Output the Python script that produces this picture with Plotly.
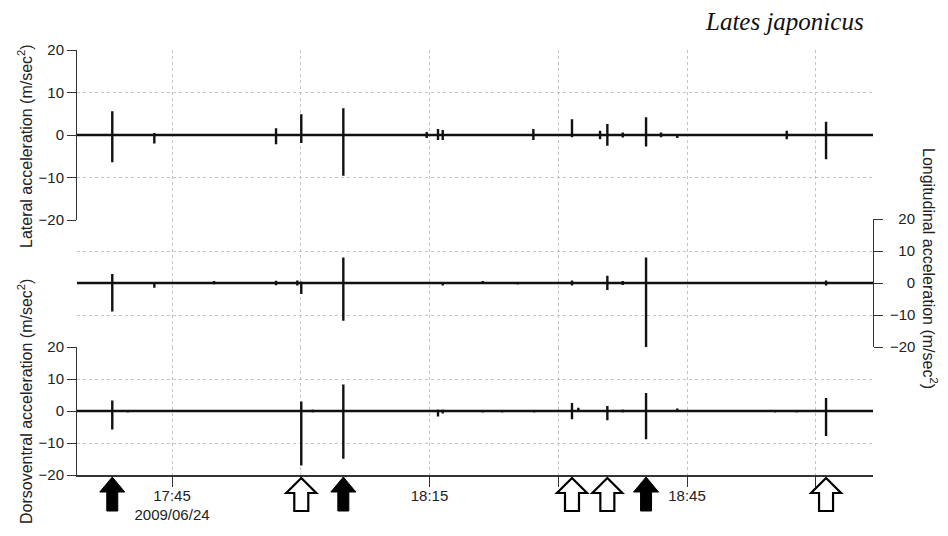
import plotly.graph_objects as go

# ---------------- data (minutes after 17:00 on 2009/06/24) ----------------
t_start = 33.93
t_end = 126.67

lat_t  = [38.04, 42.94, 57.12, 60.06, 64.96, 74.67, 75.99, 76.54, 87.1, 91.6, 94.87, 95.72, 97.51, 100.23, 101.98, 103.87, 116.62, 121.2]
lat_hi = [5.6, 0.5, 1.6, 4.9, 6.3, 0.7, 1.4, 1.2, 1.4, 3.7, 1.0, 2.6, 0.6, 4.2, 0.6, 0.3, 1.0, 3.1]
lat_lo = [-6.4, -2.0, -2.2, -1.9, -9.6, -0.7, -1.2, -1.2, -1.2, -0.5, -1.0, -2.5, -0.6, -2.7, -0.5, -0.7, -1.0, -5.7]

lon_t  = [38.04, 42.94, 49.9, 57.12, 59.6, 60.06, 64.96, 69.0, 76.54, 81.2, 85.28, 91.6, 95.72, 97.51, 100.23, 121.2]
lon_hi = [2.8, 0.3, 0.6, 0.7, 0.8, 0.5, 8.0, 0.4, 0.3, 0.6, 0.4, 0.8, 2.3, 0.6, 8.0, 0.8]
lon_lo = [-8.9, -1.5, -0.5, -0.7, -0.8, -3.4, -11.8, -0.4, -0.8, -0.4, -0.5, -0.8, -2.2, -0.6, -20.0, -0.8]

dv_t  = [38.04, 39.84, 42.94, 60.06, 61.4, 64.96, 75.99, 76.54, 81.2, 83.48, 87.2, 91.6, 92.34, 95.72, 97.51, 100.23, 103.87, 115.26, 117.78, 121.2]
dv_hi = [3.3, 0.3, 0.3, 3.0, 0.5, 8.3, 0.5, 0.5, 0.3, 0.3, 0.3, 2.5, 1.0, 1.6, 0.5, 5.6, 0.8, 0.3, 0.3, 4.1]
dv_lo = [-5.8, -0.5, -0.4, -17.0, -0.5, -14.9, -1.7, -0.8, -0.5, -0.5, -0.5, -2.6, -0.3, -2.9, -0.5, -8.8, -0.3, -0.5, -0.5, -7.8]

filled_arrow_t = [38.04, 64.96, 100.23]
open_arrow_t = [60.06, 91.6, 95.72, 121.2]

tick_vals = [45, 60, 75, 90, 105, 120]
tick_text = ["17:45<br>2009/06/24", "", "18:15", "", "18:45", ""]
y_ticks = [-20, -10, 0, 10, 20]
y_ticktext_right = ["\u221220", "\u221210", "\u2007\u20070", "\u200710", "\u200720"]

title_text = "Lates japonicus"
lat_title = "Lateral acceleration (m/sec<sup>2</sup>)"
lon_title = "Longitudinal acceleration (m/sec<sup>2</sup>)"
dv_title = "Dorsoventral acceleration (m/sec<sup>2</sup>)"


def trace_xy(ts, his, los):
    xs, ys = [t_start], [0]
    for t, h, l in zip(ts, his, los):
        xs += [t, t, t, t]
        ys += [0, h, l, 0]
    xs.append(t_end)
    ys.append(0)
    return xs, ys


FONT = "Liberation Sans, Arial, sans-serif"
LINE = "#111111"
GRID = "#c4c4c4"
AX = "#333333"

# page body has an 8px margin; the figure is sized so the page fills 948x536
W, HGT = 940, 520
L, R, T, B = 69, 75, 42, 53
PW = W - L - R          # 796
H = HGT - T - B         # 425

fig = go.Figure()
for (ts, hi, lo), ya in [((lat_t, lat_hi, lat_lo), "y3"),
                         ((lon_t, lon_hi, lon_lo), "y2"),
                         ((dv_t, dv_hi, dv_lo), "y")]:
    xs, ys = trace_xy(ts, hi, lo)
    fig.add_trace(go.Scatter(x=xs, y=ys, mode="lines", yaxis=ya, xaxis="x",
                             line=dict(color=LINE, width=2.4), showlegend=False,
                             hoverinfo="skip"))

d_bot = [0, 128 / H]
d_mid = [128 / H, 256 / H]
d_top = [255 / H, 1.0]

yax_common = dict(range=[-20, 20], tickvals=y_ticks, showgrid=True, gridcolor=GRID,
                  griddash="dot", gridwidth=1, zeroline=False, showline=True,
                  linecolor=AX, linewidth=1, ticks="outside", ticklen=9,
                  tickcolor=AX, tickfont=dict(family=FONT, size=15, color="#222"),
                  fixedrange=True, automargin=False)

fig.update_layout(
    width=W, height=HGT,
    margin=dict(l=L, r=R, t=T, b=B, autoexpand=False),
    paper_bgcolor="white", plot_bgcolor="white",
    xaxis=dict(range=[t_start, t_end], tickvals=tick_vals, ticktext=tick_text,
               showgrid=True, gridcolor=GRID, griddash="dot", gridwidth=1,
               zeroline=False, showline=True, linecolor=AX, linewidth=1.5,
               ticks="outside", ticklen=10, tickcolor=AX, anchor="y",
               automargin=False, fixedrange=True, ticklabelstandoff=-4,
               tickfont=dict(family=FONT, size=15, color="#222")),
    yaxis=dict(domain=d_bot, anchor="x", side="left", **yax_common),
    yaxis2=dict(domain=d_mid, anchor="x", side="right", ticktext=y_ticktext_right,
                ticklabelstandoff=4, **yax_common),
    yaxis3=dict(domain=d_top, anchor="x", side="left", **yax_common),
)


def px_x(gx):
    return (gx - 8 - L) / PW


def px_y(gy):
    return (HGT - B - (gy - 8)) / H


# axis titles
fig.add_annotation(text=lat_title, xref="paper", yref="paper",
                   x=px_x(25), y=px_y(146), textangle=-90,
                   showarrow=False, font=dict(family=FONT, size=16, color="#222"),
                   xanchor="center", yanchor="middle")
fig.add_annotation(text=dv_title, xref="paper", yref="paper",
                   x=px_x(25), y=px_y(402), textangle=-90,
                   showarrow=False, font=dict(family=FONT, size=16, color="#222"),
                   xanchor="center", yanchor="middle")
fig.add_annotation(text=lon_title, xref="paper", yref="paper",
                   x=px_x(930), y=px_y(268), textangle=90,
                   showarrow=False, font=dict(family=FONT, size=16, color="#222"),
                   xanchor="center", yanchor="middle")
fig.add_annotation(text=title_text, xref="paper", yref="paper",
                   x=px_x(866), y=px_y(21),
                   showarrow=False, xanchor="right", yanchor="middle",
                   font=dict(family="Liberation Serif, Times New Roman, serif",
                             size=25, color="#111", style="italic"))

# event arrows below the time axis
for t in filled_arrow_t:
    fig.add_shape(type="path", xref="x", yref="paper", xsizemode="pixel",
                  ysizemode="pixel", xanchor=t, yanchor=0,
                  path="M 0 -2 L 12.5 -17 L 5.5 -17 L 5.5 -36 L -5.5 -36 L -5.5 -17 L -12.5 -17 Z",
                  fillcolor="black", line=dict(color="black", width=1))
for t in open_arrow_t:
    fig.add_shape(type="path", xref="x", yref="paper", xsizemode="pixel",
                  ysizemode="pixel", xanchor=t, yanchor=0,
                  path="M 0 -3 L 15 -18 L 7 -18 L 7 -36 L -7 -36 L -7 -18 L -15 -18 Z",
                  fillcolor="white", line=dict(color="black", width=2.2))

fig.write_html("out.html")
